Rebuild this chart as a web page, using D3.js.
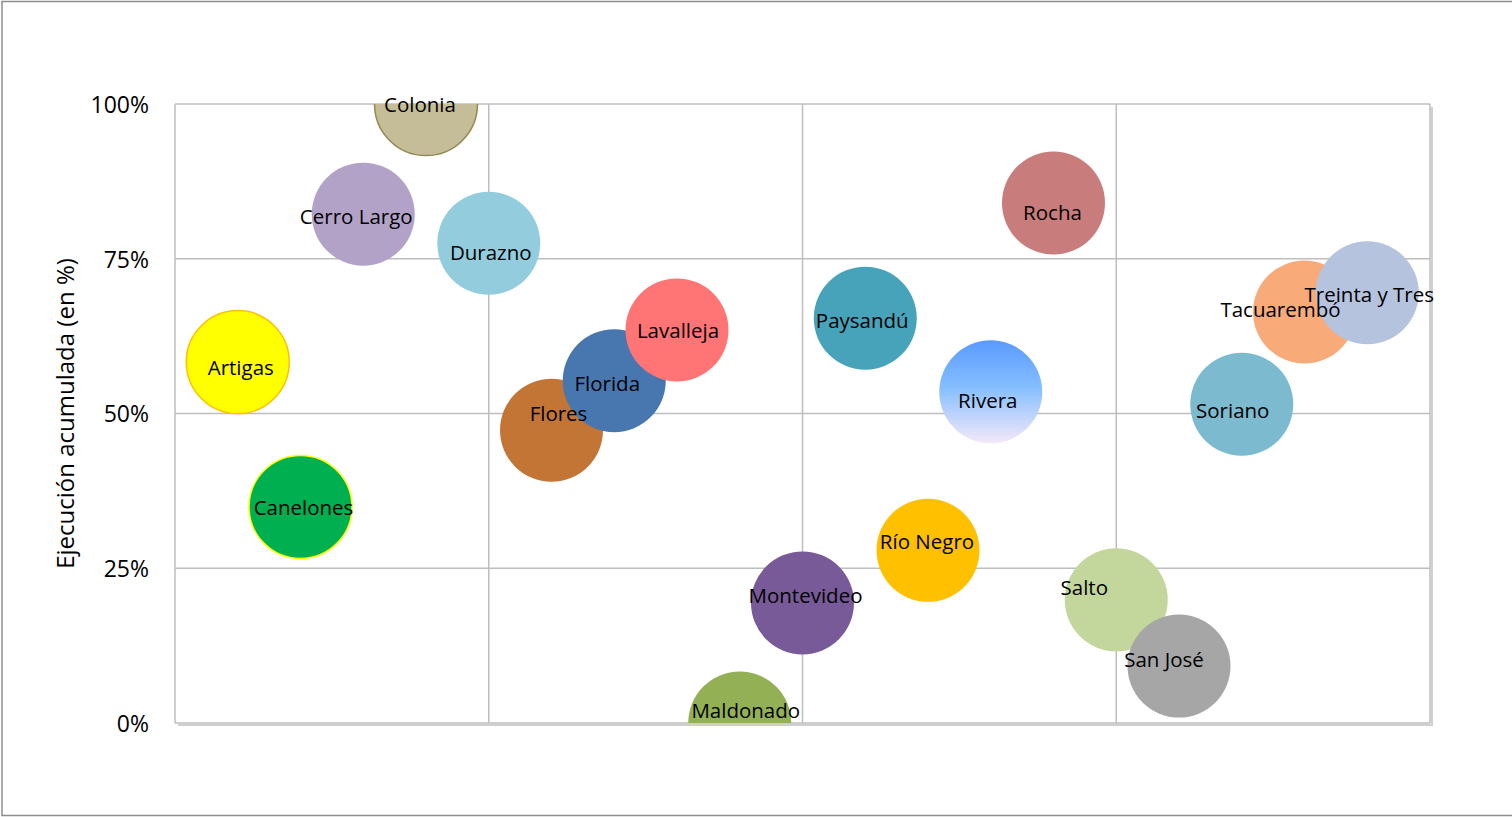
<!DOCTYPE html>
<html>
<head>
<meta charset="utf-8">
<script src="https://cdn.jsdelivr.net/npm/d3@7/dist/d3.min.js"></script>
<style>
html,body{margin:0;padding:0;background:#fff;}
svg{display:block;}
text{font-family:"Open Sans","Noto Sans",sans-serif;fill:#000;}
</style>
</head>
<body>
<svg id="chart" width="1512" height="817"></svg>
<script>
// ---- data ----
const departments = ["Artigas","Canelones","Cerro Largo","Colonia","Durazno","Flores","Florida","Lavalleja","Maldonado","Montevideo","Paysandú","Río Negro","Rivera","Rocha","Salto","San José","Soriano","Tacuarembó","Treinta y Tres"];
const xIndex = [1,2,3,4,5,6,7,8,9,10,11,12,13,14,15,16,17,18,19];
const execution = [0.583,0.349,0.822,1.00,0.775,0.473,0.553,0.635,0.00,0.194,0.654,0.279,0.535,0.840,0.199,0.092,0.515,0.664,0.695];
const bubbleSize = [1,1,1,1,1,1,1,1,1,1,1,1,1,1,1,1,1,1,1];
const yTicks = [0,0.25,0.5,0.75,1];
const xGrid = [0,5,10,15,20];
const yTitle = "Ejecución acumulada (en %)";

// ---- styles ----
const fills = ["#FFFF00","#00B050","#B3A2C7","#C4BD97","#93CDDD","#C27535","#4877B0","#FF7474","#93B055","#775A97","#47A3BA","#FFC000","url(#riveraGrad)","#C87C7B","#C3D69B","#A6A6A6","#7BBACF","#F8AA78","#B5C3DE"];
const strokes = {"Artigas":"#FFC000","Canelones":"#FFFF00","Colonia":"#938953"};
// label nudges (px) relative to bubble centre
const labelNudge = {"Artigas":[3,6],"Canelones":[3,1],"Cerro Largo":[-7,3],"Colonia":[-6,1],"Durazno":[2,10],"Flores":[7,-16],"Florida":[-7,3],"Lavalleja":[1,1],"Maldonado":[6,-12],"Montevideo":[3,-7],"Paysandú":[-3,3],"Río Negro":[-1,-8],"Rivera":[-3,9],"Rocha":[-1,10],"Salto":[-32,-12],"San José":[-15,-6],"Soriano":[-9,7],"Tacuarembó":[-24,-2],"Treinta y Tres":[2,2]};

const svg = d3.select("#chart");
const W = 1512, H = 817;
const m = {left:175, right:82, top:104, bottom:94};
const x = d3.scaleLinear().domain([0,20]).range([m.left, W - m.right]);
const y = d3.scaleLinear().domain([0,1]).range([H - m.bottom, m.top]);
const r = d3.scaleSqrt().domain([0,1]).range([0,51.5]);

const defs = svg.append("defs");
const g1 = defs.append("linearGradient").attr("id","riveraGrad").attr("x1",0).attr("y1",0).attr("x2",0).attr("y2",1);
g1.append("stop").attr("offset","0%").attr("stop-color","#5A9AFF");
g1.append("stop").attr("offset","45%").attr("stop-color","#84BEFF");
g1.append("stop").attr("offset","100%").attr("stop-color","#F5E8F8");
defs.append("clipPath").attr("id","plotClip").append("rect")
  .attr("x",x(0)).attr("y",y(1)).attr("width",x(20)-x(0)).attr("height",y(0)-y(1));

// outer border
svg.append("rect").attr("x",2).attr("y",1.5).attr("width",W+10).attr("height",814)
  .attr("fill","none").attr("stroke","#8E8E8E").attr("stroke-width",1.5);

// plot shadow
svg.append("path")
  .attr("d",`M${x(20)+2},${y(1)+3}V${y(0)+2}H${x(0)+3}`)
  .attr("fill","none").attr("stroke","#CFCFCF").attr("stroke-width",2);

// grid
svg.append("g").selectAll("line").data(yTicks).join("line")
  .attr("x1",x(0)).attr("x2",x(20)).attr("y1",d=>y(d)).attr("y2",d=>y(d))
  .attr("stroke","#BEBEBE").attr("stroke-width",1.5);
svg.append("g").selectAll("line").data(xGrid).join("line")
  .attr("y1",y(0)).attr("y2",y(1)).attr("x1",d=>x(d)).attr("x2",d=>x(d))
  .attr("stroke","#BEBEBE").attr("stroke-width",1.5);

// y axis labels
const yAxis = d3.axisLeft(y).tickValues(yTicks).tickFormat(d3.format(".0%")).tickSize(0).tickPadding(26);
const ya = svg.append("g").attr("transform",`translate(${x(0)},0)`).call(yAxis);
ya.select(".domain").remove();
ya.selectAll("text").style("font-size","23px").attr("fill","#000").attr("dy","0.36em");

// y title
svg.append("text").attr("transform",`translate(74,${(y(0)+y(1))/2}) rotate(-90)`)
  .attr("text-anchor","middle").style("font-size","24px").text(yTitle);

// bubbles
const data = departments.map((d,i)=>({name:d, x:xIndex[i], y:execution[i], s:bubbleSize[i], fill:fills[i]}));
svg.append("g").attr("clip-path","url(#plotClip)").selectAll("circle").data(data).join("circle")
  .attr("cx",d=>x(d.x)).attr("cy",d=>y(d.y)).attr("r",d=>r(d.s))
  .attr("fill",d=>d.fill)
  .attr("stroke",d=>strokes[d.name]||"none").attr("stroke-width",1.5);

// labels
svg.append("g").selectAll("text").data(data).join("text")
  .attr("x",d=>x(d.x)+labelNudge[d.name][0]).attr("y",d=>y(d.y)+labelNudge[d.name][1])
  .attr("text-anchor","middle").attr("dy","0.35em").style("font-size","20.5px")
  .text(d=>d.name);
</script>
</body>
</html>
